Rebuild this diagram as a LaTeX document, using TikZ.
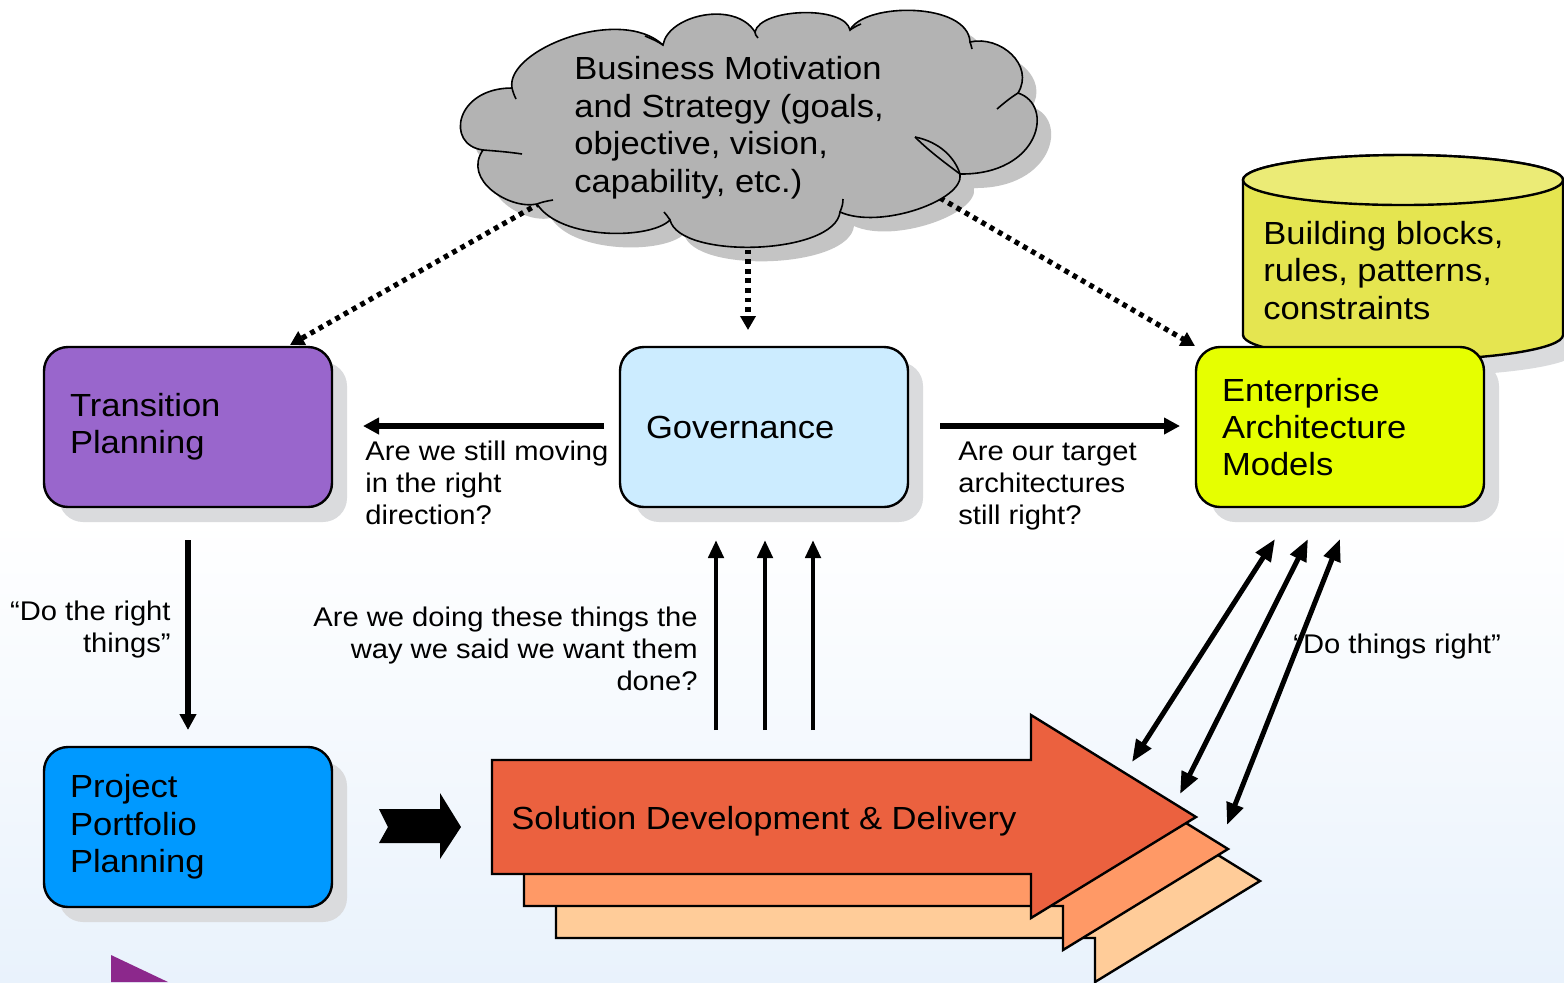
\documentclass[tikz,border=0pt]{standalone}
\usepackage{fontspec}
\setmainfont{Liberation Sans}[FakeStretch=1.08]
\usetikzlibrary{arrows.meta,shadows}
\definecolor{bgblue}{RGB}{233,242,252}
\definecolor{shadowc}{RGB}{218,219,221}
\definecolor{tppurple}{RGB}{153,102,204}
\definecolor{govblue}{RGB}{204,236,255}
\definecolor{eayellow}{RGB}{230,255,0}
\definecolor{ppblue}{RGB}{0,153,255}
\definecolor{cylbody}{RGB}{229,229,80}
\definecolor{cyltop}{RGB}{235,235,118}
\definecolor{cloudgray}{RGB}{179,179,179}
\definecolor{cloudshadow}{RGB}{196,196,196}
\definecolor{orangeA}{RGB}{235,97,63}
\definecolor{orangeB}{RGB}{255,153,102}
\definecolor{orangeC}{RGB}{255,204,153}
\definecolor{tripurple}{RGB}{140,40,140}
\newcommand\fbig{\fontsize{16pt}{18.7pt}\selectfont}
\newcommand\fsmall{\fontsize{13.5pt}{15.8pt}\selectfont}
\newcommand\mycloudpath{(512,88)
  .. controls (505,50) and (620,5) .. (663,45)
  .. controls (668,15) and (735,0) .. (755,32)
  .. controls (760,8) and (845,5) .. (850,30)
  .. controls (865,2) and (968,2) .. (970,42)
  .. controls (1000,35) and (1035,65) .. (1018,93)
  .. controls (1055,105) and (1040,175) .. (960,174)
  .. controls (965,200) and (880,230) .. (840,212)
  .. controls (835,255) and (680,260) .. (670,220)
  .. controls (650,240) and (560,240) .. (537,204)
  .. controls (510,210) and (462,180) .. (483,150)
  .. controls (445,145) and (455,88) .. (512,88) -- cycle}
\begin{document}
\begin{tikzpicture}[x=0.5pt,y=-0.5pt,
  box/.style={draw=black, line width=1.2pt, rounded corners=12pt,
    minimum width=144pt, minimum height=80pt, text width=118pt,
    inner xsep=13pt, align=left, font=\fbig,
    drop shadow={shadow xshift=7.5pt, shadow yshift=-7.5pt, fill=shadowc, opacity=1}},
  lbl/.style={font=\fsmall, inner sep=0pt},
  bigtext/.style={font=\fbig, inner sep=0pt},
  arr/.style={line width=3pt, -{Triangle[length=8pt,width=8pt]}},
  uparr/.style={line width=2.4pt, -{Triangle[length=9pt,width=7.5pt]}},
  dbl/.style={line width=2.5pt, {Triangle[length=11pt,width=8.5pt]}-{Triangle[length=11pt,width=8.5pt]}},
  dotarr/.style={line width=2.6pt, dash pattern=on 2.4pt off 2.4pt, -{Triangle[length=7pt,width=7.5pt]}},
  curl/.style={draw=black, line width=0.8pt},
  bigarrow/.style={draw=black, line width=1.2pt, line join=miter}
]
\useasboundingbox (0,0) rectangle (1564,982);
\fill[white] (0,0) rectangle (1564,982);
\shade[top color=white, bottom color=bgblue] (0,520) rectangle (1564,982);

% purple corner
\fill[tripurple] (111,955) -- (168,982) -- (111,982) -- cycle;

% cloud shadow
\begin{scope}[shift={(14,14)}]
\fill[cloudshadow] \mycloudpath;
\end{scope}

% coordinates for connectors
\coordinate (d1s) at (540,203);
\coordinate (d1e) at (290,345);
\coordinate (d2s) at (748,240);
\coordinate (d2e) at (748,330);
\coordinate (d3s) at (940,198);
\coordinate (d3e) at (1195,346);

% dotted arrows (starting under the cloud)
\draw[dotarr] (d1s) -- (d1e);
\draw[dotarr] (d2s) -- (d2e);
\draw[dotarr] (d3s) -- (d3e);

% cloud
\filldraw[fill=cloudgray, draw=black, line width=0.8pt] \mycloudpath;
% inner curls of the cloud
\draw[curl] (512,88) .. controls (513,92) and (514,95) .. (516,99);
\draw[curl] (663,45) .. controls (657,41) and (652,39) .. (645,36);
\draw[curl] (755,32) .. controls (755,34) and (756,36) .. (758,38);
\draw[curl] (850,30) .. controls (853,28) and (856,26) .. (861,24);
\draw[curl] (970,42) .. controls (971,44) and (971,46) .. (972,49);
\draw[curl] (1018,93) .. controls (1010,98) and (1004,103) .. (997,109);
\draw[curl] (960,174) .. controls (955,158) and (940,142) .. (915,137);
\draw[curl] (960,174) .. controls (948,165) and (930,152) .. (915,137);
\draw[curl] (840,212) .. controls (842,207) and (843,204) .. (843,199);
\draw[curl] (670,220) .. controls (668,217) and (666,214) .. (664,212);
\draw[curl] (537,204) .. controls (542,202) and (547,201) .. (553,200);
\draw[curl] (483,150) .. controls (496,151) and (509,152) .. (522,154);
\node[bigtext, anchor=base west, align=left] (cloudtext) at (574,192)
  {Business Motivation\\and Strategy (goals,\\objective, vision,\\capability, etc.)};

% cylinder shadow
\begin{scope}[shift={(14,16)}]
\fill[shadowc] (1243,180) -- (1243,335) arc (180:360:80pt and 12.5pt) -- (1563,180) arc (0:180:80pt and 12.5pt) -- cycle;
\end{scope}
% cylinder
\filldraw[fill=cylbody, draw=black, line width=1.2pt] (1243,180) -- (1243,335) arc (180:360:80pt and 12.5pt) -- (1563,180) arc (0:180:80pt and 12.5pt) -- cycle;
\filldraw[fill=cyltop, draw=black, line width=1.2pt] (1403,180) ellipse (80pt and 12.5pt);
\node[bigtext, anchor=base west, align=left] (cyltext) at (1263,319)
  {Building blocks,\\rules, patterns,\\constraints};

% boxes
\node[box, fill=tppurple] (tp) at (188,427) {Transition\\Planning};
\node[box, fill=govblue] (gov) at (764,427) {Governance};
\node[box, fill=eayellow] (ea) at (1340,427) {Enterprise\\Architecture\\Models};
\node[box, fill=ppblue] (pp) at (188,827) {Project\\Portfolio\\Planning};

% stacked big arrows
\begin{scope}[shift={(64,64)}]
\filldraw[bigarrow, fill=orangeC] (492,760) -- (1031,760) -- (1031,715) -- (1196,817) -- (1031,918) -- (1031,874) -- (492,874) -- cycle;
\end{scope}
\begin{scope}[shift={(32,32)}]
\filldraw[bigarrow, fill=orangeB] (492,760) -- (1031,760) -- (1031,715) -- (1196,817) -- (1031,918) -- (1031,874) -- (492,874) -- cycle;
\end{scope}
\filldraw[bigarrow, fill=orangeA] (492,760) -- (1031,760) -- (1031,715) -- (1196,817) -- (1031,918) -- (1031,874) -- (492,874) -- cycle;
\node[bigtext, anchor=base west] (sdd) at (511,829) {Solution Development \& Delivery};

% black block arrow
\fill[black] (379,809) -- (440,809) -- (440,793) -- (461,827) -- (440,859) -- (440,843) -- (379,843) -- (388,827) -- cycle;

% labels
\node[lbl, anchor=base west, align=left] (q1) at (365,524) {Are we still moving\\in the right\\direction?};
\node[lbl, anchor=base west, align=left] (q2) at (958,524) {Are our target\\architectures\\still right?};
\node[lbl, anchor=base east, align=right] (q3) at (171,652) {“Do the right\\things”};
\node[lbl, anchor=base east, align=right] (q4) at (698,690) {Are we doing these things the\\way we said we want them\\done?};
\node[lbl, anchor=base west] (q5) at (1293,653) {“Do things right”};

% solid connectors
\coordinate (g1) at (604,426);
\coordinate (g1e) at (363,426);
\coordinate (g2) at (940,426);
\coordinate (g2e) at (1180,426);
\draw[arr] (g1) -- (g1e);
\draw[arr] (g2) -- (g2e);
\coordinate (t1) at (188,540);
\coordinate (t1e) at (188,730);
\draw[arr] (t1) -- (t1e);

\coordinate (u1s) at (716,730); \coordinate (u1e) at (716,540);
\coordinate (u2s) at (765,730); \coordinate (u2e) at (765,540);
\coordinate (u3s) at (813,730); \coordinate (u3e) at (813,540);
\draw[uparr] (u1s) -- (u1e);
\draw[uparr] (u2s) -- (u2e);
\draw[uparr] (u3s) -- (u3e);

\coordinate (b1s) at (1132,762); \coordinate (b1e) at (1275,539);
\coordinate (b2s) at (1180,794); \coordinate (b2e) at (1308,539);
\coordinate (b3s) at (1227,825); \coordinate (b3e) at (1340,539);
\draw[dbl] (b1s) -- (b1e);
\draw[dbl] (b2s) -- (b2e);
\draw[dbl] (b3s) -- (b3e);
\end{tikzpicture}
\end{document}
